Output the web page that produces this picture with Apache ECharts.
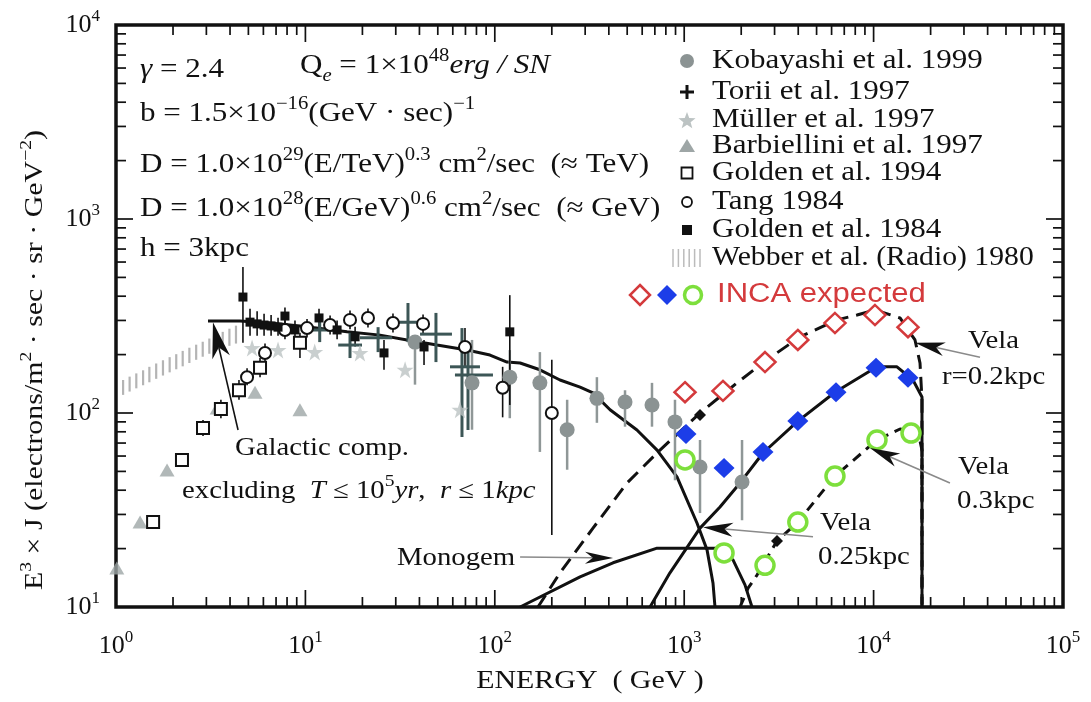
<!DOCTYPE html>
<html>
<head>
<meta charset="utf-8">
<title>Electron spectrum E^3 x J</title>
<script src="https://cdn.jsdelivr.net/npm/echarts@6/dist/echarts.min.js"></script>
<style>
  html, body { margin: 0; padding: 0; background: #fff; }
  #chart { width: 1091px; height: 702px; }
</style>
</head>
<body>
<div id="chart"></div>
<script>
// Energy E in GeV on x, E^3 x J on y (both logarithmic).

// ---- axis ranges and tick labels ----
const X_MIN = 1, X_MAX = 100000, Y_MIN = 10, Y_MAX = 10000;
const xTickExponents = ['0', '1', '2', '3', '4', '5'];
const yTickExponents = ['1', '2', '3', '4'];
const minorSteps = [2, 3, 4, 5, 6, 7, 8, 9];

// ---- measurements ----
// Kobayashi et al. 1999: [E, E3J, lower, upper]
const kobayashi1999 = [
  [37.9, 232, 140, 250], [75.8, 143, 82, 238], [120, 153, 94, 211], [173, 143, 63, 206],
  [241, 82, 51, 117], [346, 119, 89, 153], [487, 114, 85, 131], [676, 110, 85, 143],
  [894, 90, 45, 117], [1212, 52.7, 30.5, 72.6], [2020, 44.1, 28, 72.6]
];
// Torii et al. 1997: [E, E3J, E low, E high, lower, upper]
const torii1997 = [
  [11.9, 268, 9.71, 14.7, 232, 302], [17.2, 224, 14.9, 19.9, 192, 259],
  [24.2, 244, 19.4, 28.7, 206, 277], [34.8, 294, 28.0, 44.4, 232, 369],
  [48.9, 255, 40.3, 59.4, 183, 328], [67.1, 173, 58.0, 83.5, 75.2, 274],
  [72.2, 157, 61.6, 97.8, 81.7, 224]
];
// Muller et al. 1997: [E, E3J]
const muller1997 = [[5.23, 216], [7.17, 211], [11.2, 206], [19.4, 204], [33.6, 167], [65.5, 104]];
// Barbiellini et al. 1997: [E, E3J]
const barbiellini1997 = [[1.01, 15.9], [1.34, 27.4], [1.86, 50.8], [3.42, 106], [5.42, 128], [9.36, 104]];
// Golden et al. 1994: [E, E3J, lower, upper]
const golden1994 = [
  [1.57, 27.4, 27.4, 27.4], [2.23, 57.3, 53, 62], [2.88, 83.7, 76, 92], [3.58, 105, 94, 117],
  [4.46, 131, 117, 148], [5.76, 171, 153, 192], [9.36, 230, 192, 259]
];
// Tang 1984: [E, E3J, lower, upper]
const tang1984 = [
  [4.92, 153, 139, 170], [6.12, 204, 183, 228], [7.80, 268, 240, 300], [10.2, 274, 245, 305],
  [13.5, 284, 254, 318], [17.2, 302, 270, 338], [21.4, 309, 276, 346], [29.0, 291, 260, 326],
  [41.8, 288, 258, 322], [69.6, 219, 173, 274], [110, 135, 95, 173], [200, 100, 23.5, 188]
];
// Golden et al. 1984: [E, E3J, lower, upper]
const golden1984 = [
  [4.68, 396, 230, 566], [5.10, 294, 250, 345], [5.56, 288, 250, 335], [6.05, 284, 250, 325],
  [6.59, 281, 250, 320], [7.17, 277, 250, 310], [7.80, 316, 285, 350], [8.81, 268, 240, 300],
  [11.8, 309, 278, 345], [14.7, 268, 240, 300], [18.3, 247, 220, 278], [26.0, 204, 167, 238],
  [42.3, 219, 177, 238], [120, 262, 110, 405]
];
// Webber et al. (Radio) 1980 band: [E, lower, upper]
const webberRadio1980 = [
  [1.09, 124, 148], [1.18, 129, 154], [1.28, 134, 160], [1.39, 139, 166], [1.50, 144, 173],
  [1.63, 150, 180], [1.77, 156, 187], [1.92, 162, 194], [2.08, 168, 201], [2.25, 174, 209],
  [2.44, 181, 217], [2.65, 188, 225], [2.87, 195, 233], [3.11, 202, 242], [3.37, 209, 251],
  [3.66, 216, 262], [3.97, 222, 272], [4.30, 228, 282]
];

// ---- model curves: [E, E3J] ----
const galacticCurve = [
  [3.06, 298], [4.52, 298], [6.50, 291], [9.36, 281], [16.6, 262], [24.8, 252], [34.4, 238],
  [49.5, 224], [71.3, 211], [94.3, 199], [116, 183], [136, 181], [173, 167], [221, 148],
  [282, 136], [330, 127], [406, 104], [563, 81.7], [719, 64.4], [916, 46.8], [1168, 27.1],
  [1320, 19.7], [1419, 13.3], [1454, 10]
];
const monogemCurve = [
  [136, 10], [282, 14.3], [421, 16.9], [719, 20.1], [1490, 20.1], [1810, 17.5], [2094, 13.0], [2280, 10]
];
const vela020Curve = [
  [169, 10], [221, 15.0], [330, 25.5], [499, 43.6], [745, 64.4], [1212, 100], [1900, 143],
  [2736, 188], [4087, 247], [6410, 302], [8175, 320], [10170, 340], [13790, 309], [16540, 238],
  [17580, 181], [18010, 117], [18010, 10]
];
const vela025Curve = [
  [660, 10], [841, 15.0], [1212, 25.5], [1545, 32.8], [1971, 43.6], [2606, 62.2], [3941, 90],
  [6252, 128], [10420, 173], [13290, 173], [16140, 148], [18010, 121], [18010, 10]
];
const vela030Curve = [
  [1971, 10], [2173, 12.5], [2423, 14.6], [3090, 21.9], [3981, 27.4], [6252, 47.3],
  [10420, 72.6], [13790, 82.7], [17160, 79.8], [18010, 64.4], [18010, 10]
];
const curveMarks = [[1212, 97.7], [3090, 21.9]];

// ---- INCA expected: [E, E3J] ----
const incaRed = [[1010, 128], [1602, 130], [2671, 183], [3981, 238], [6252, 291], [10170, 320], [15190, 277]];
const incaBlue = [[1022, 77.9], [1623, 52], [2606, 62.9], [3981, 91], [6332, 128], [10300, 171], [15190, 152]];
const incaGreen = [[1010, 57.3], [1623, 19.0], [2671, 16.4], [3981, 27.4], [6252, 47.3], [10420, 72.6], [15760, 78.8]];

// ---- annotation pointers: [tail E, tail E3J, tip E, tip E3J] ----
const pointerArrows = [
  [4.41, 81.7, 3.25, 294], [136, 18.1, 421, 17.9], [4786, 23, 1257, 25.8],
  [25300, 43.6, 9570, 66], [36450, 194, 16540, 230]
];

// ---- look ----
const SERIF = '"Liberation Serif", "Times New Roman", serif';
const SANS = '"Liberation Sans", Arial, sans-serif';
const INK = '#111';
const STRETCH = 1.15;
const arrowLook = [
  { len: 36, half: 9, shaft: INK }, { len: 28, half: 6, shaft: '#8a8a8a' },
  { len: 30, half: 7, shaft: '#8a8a8a' }, { len: 30, half: 7, shaft: '#8a8a8a' },
  { len: 30, half: 7, shaft: '#8a8a8a' }
];
const STAR = 'path://M50 0 L61.8 35.1 L98.9 35.1 L68.9 56.8 L80.3 91.9 L50 70.2 L19.7 91.9 L31.1 56.8 L1.1 35.1 L38.2 35.1 Z';

// decade and in-between tick values of a log axis
function decadeValues(exps) { return exps.map(e => Math.pow(10, +e)); }
function minorValues(exps) {
  const out = [];
  exps.slice(0, -1).forEach(e => minorSteps.forEach(m => out.push(Math.pow(10, +e) * m)));
  return out;
}

// frame ticks drawn as thin bar symbols pinned to the frame edges
function tickSeries(points, size, offset) {
  return {
    type: 'scatter', data: points, symbol: 'rect', symbolSize: size, symbolOffset: offset,
    clip: false, silent: true, z: 6, itemStyle: { color: INK, opacity: 1 }
  };
}
function frameTicks() {
  const out = [];
  [[decadeValues(xTickExponents), 17], [minorValues(xTickExponents), 10]].forEach(([vals, len]) => {
    out.push(tickSeries(vals.map(v => [v, Y_MIN]), [1.7, len], [0, -len / 2]));
    out.push(tickSeries(vals.map(v => [v, Y_MAX]), [1.7, len], [0, len / 2]));
  });
  [[decadeValues(yTickExponents), 17], [minorValues(yTickExponents), 10]].forEach(([vals, len]) => {
    out.push(tickSeries(vals.map(v => [X_MIN, v]), [len, 1.7], [len / 2, 0]));
    out.push(tickSeries(vals.map(v => [X_MAX, v]), [len, 1.7], [-len / 2, 0]));
  });
  return out;
}

function verticalBars(color, width) {
  return function (params, api) {
    const x = api.coord([api.value(0), api.value(1)])[0];
    const lo = api.coord([api.value(0), api.value(2)])[1];
    const hi = api.coord([api.value(0), api.value(3)])[1];
    return { type: 'line', shape: { x1: x, y1: lo, x2: x, y2: hi }, style: { stroke: color, lineWidth: width } };
  };
}
function renderHatch(params, api) {
  const lo = api.coord([api.value(0), api.value(1)]);
  const hi = api.coord([api.value(0), api.value(2)]);
  return { type: 'line', shape: { x1: lo[0], y1: lo[1], x2: hi[0], y2: hi[1] }, style: { stroke: '#b4b4b4', lineWidth: 2.2 } };
}
function renderCrosses(params, api) {
  const c = api.coord([api.value(0), api.value(1)]);
  const xl = api.coord([api.value(2), api.value(1)])[0];
  const xr = api.coord([api.value(3), api.value(1)])[0];
  const yl = api.coord([api.value(0), api.value(4)])[1];
  const yh = api.coord([api.value(0), api.value(5)])[1];
  const st = { stroke: '#3c5656', lineWidth: 3 };
  return { type: 'group', children: [
    { type: 'line', shape: { x1: xl, y1: c[1], x2: xr, y2: c[1] }, style: st },
    { type: 'line', shape: { x1: c[0], y1: yl, x2: c[0], y2: yh }, style: st }
  ] };
}
function renderArrow(params, api) {
  const look = arrowLook[params.dataIndex];
  const a = api.coord([api.value(0), api.value(1)]);
  const b = api.coord([api.value(2), api.value(3)]);
  const dx = b[0] - a[0], dy = b[1] - a[1], d = Math.hypot(dx, dy);
  const ux = dx / d, uy = dy / d, px = -uy, py = ux;
  const bx = b[0] - ux * look.len, by = b[1] - uy * look.len;
  const nx = b[0] - ux * look.len * 0.72, ny = b[1] - uy * look.len * 0.72;
  return { type: 'group', children: [
    { type: 'line', shape: { x1: a[0], y1: a[1], x2: nx, y2: ny }, style: { stroke: look.shaft, lineWidth: 1.6 } },
    { type: 'polygon', shape: { points: [[b[0], b[1]], [bx + px * look.half, by + py * look.half], [nx, ny], [bx - px * look.half, by - py * look.half]] },
      style: { fill: INK } }
  ] };
}

// rich text sets: bottom-aligned tokens, superscripts lifted by padding
function richSet(fs, lowerBase) {
  const sfs = Math.round(fs * 0.66);
  const lift = Math.round(fs * 0.5);
  const pb = lowerBase || 0;
  return {
    n: { fontFamily: SERIF, fontSize: fs, lineHeight: fs, verticalAlign: 'bottom', fill: INK, padding: [0, 0, pb, 0] },
    i: { fontFamily: SERIF, fontSize: fs, lineHeight: fs, verticalAlign: 'bottom', fill: INK, fontStyle: 'italic', padding: [0, 0, pb, 0] },
    sup: { fontFamily: SERIF, fontSize: sfs, lineHeight: sfs, verticalAlign: 'bottom', fill: INK, padding: [0, 0, lift + pb, 0] },
    sub: { fontFamily: SERIF, fontSize: sfs, lineHeight: sfs, verticalAlign: 'bottom', fill: INK, fontStyle: 'italic' },
    sans: { fontFamily: SANS, fontSize: fs, lineHeight: fs, verticalAlign: 'bottom', fill: '#d43a3c' }
  };
}
function text(x, y, str, fs, extra) {
  return Object.assign({
    type: 'text', x: x, y: y, scaleX: STRETCH, silent: true, z: 100,
    style: { text: str, rich: richSet(fs), align: 'left', verticalAlign: 'middle' }
  }, extra || {});
}

const chart = echarts.init(document.getElementById('chart'));

const axisRich = {
  b: { fontFamily: SERIF, fontSize: 26, lineHeight: 26, color: INK, verticalAlign: 'bottom' },
  s: { fontFamily: SERIF, fontSize: 17, lineHeight: 17, color: INK, verticalAlign: 'bottom', padding: [0, 0, 13, 0] }
};
function expLabel(v, list) {
  const e = String(Math.round(Math.log10(v)));
  return list.indexOf(e) >= 0 ? '{b|10}{s|' + e + '}' : '';
}
function lineSeries(data, dash) {
  return { type: 'line', data: data, symbol: 'none', silent: true, z: 2, smooth: false,
    lineStyle: { color: INK, width: 3, type: dash || 'solid' } };
}

// legend glyphs
function starPoints(cx, cy, R, r) {
  const pts = [];
  for (let k = 0; k < 10; k++) {
    const a = -Math.PI / 2 + k * Math.PI / 5, rad = k % 2 ? r : R;
    pts.push([cx + rad * Math.cos(a), cy + rad * Math.sin(a)]);
  }
  return pts;
}
const legendNames = ['Kobayashi et al. 1999', 'Torii et al. 1997', 'Müller et al. 1997', 'Barbiellini et al. 1997',
  'Golden et al. 1994', 'Tang 1984', 'Golden et al. 1984', 'Webber et al. (Radio) 1980'];
const legendRows = [61, 92, 120, 146, 173, 202, 230, 258];
const LX = 687, TX = 712;
const graphics = [];
legendNames.forEach((n, k) => graphics.push(text(TX, legendRows[k], '{n|' + n + '}', 27, k === 7 ? { scaleX: 1.1 } : null)));
graphics.push(
  { type: 'circle', shape: { cx: LX, cy: legendRows[0], r: 7 }, style: { fill: '#8b9393' }, silent: true },
  { type: 'line', shape: { x1: LX - 7, y1: legendRows[1], x2: LX + 7, y2: legendRows[1] }, style: { stroke: INK, lineWidth: 3 }, silent: true },
  { type: 'line', shape: { x1: LX, y1: legendRows[1] - 7, x2: LX, y2: legendRows[1] + 7 }, style: { stroke: INK, lineWidth: 3 }, silent: true },
  { type: 'polygon', shape: { points: starPoints(LX, legendRows[2] + 1, 9, 3.8) }, style: { fill: '#bcc3c3' }, silent: true },
  { type: 'polygon', shape: { points: [[LX, legendRows[3] - 7], [LX + 8, legendRows[3] + 6], [LX - 8, legendRows[3] + 6]] }, style: { fill: '#9ea6a6' }, silent: true },
  { type: 'rect', shape: { x: LX - 5.5, y: legendRows[4] - 5.5, width: 11, height: 11 }, style: { fill: '#fff', stroke: INK, lineWidth: 1.8 }, silent: true },
  { type: 'circle', shape: { cx: LX, cy: legendRows[5], r: 5 }, style: { fill: '#fff', stroke: INK, lineWidth: 1.8 }, silent: true },
  { type: 'rect', shape: { x: LX - 5, y: legendRows[6] - 5, width: 10, height: 10 }, style: { fill: INK }, silent: true }
);
for (let k = 0; k < 6; k++) {
  const hx = 673 + k * 5.4;
  graphics.push({ type: 'line', shape: { x1: hx, y1: legendRows[7] - 9, x2: hx, y2: legendRows[7] + 9 }, style: { stroke: '#bbbbbb', lineWidth: 1.5 }, silent: true });
}
// INCA row
graphics.push(
  { type: 'polygon', shape: { points: [[640, 285], [650, 295], [640, 305], [630, 295]] }, style: { fill: '#fff', stroke: '#d43a3c', lineWidth: 2.5 }, silent: true },
  { type: 'polygon', shape: { points: [[667, 285], [677, 295], [667, 305], [657, 295]] }, style: { fill: '#1c3de8' }, silent: true },
  { type: 'circle', shape: { cx: 693, cy: 295, r: 8.5 }, style: { fill: '#fff', stroke: '#7ddf3c', lineWidth: 3.5 }, silent: true },
  text(717, 295, '{sans|INCA expected}', 27)
);
// model parameters
const qLine = text(300, 72, '{n|Q}{sub|e}{n| = 1×10}{sup|48}{i|erg / SN}', 27);
qLine.style.rich = richSet(27, 6); // subscript sits below the lifted line
graphics.push(
  text(140, 70, '{i|γ}{n| = 2.4}', 27),
  qLine,
  text(140, 114, '{n|b = 1.5×10}{sup|−16}{n|(GeV · sec)}{sup|−1}', 27),
  text(140, 165, '{n|D = 1.0×10}{sup|29}{n|(E/TeV)}{sup|0.3}{n| cm}{sup|2}{n|/sec  (≈ TeV)}', 27),
  text(140, 209, '{n|D = 1.0×10}{sup|28}{n|(E/GeV)}{sup|0.6}{n| cm}{sup|2}{n|/sec  (≈ GeV)}', 27),
  text(140, 249, '{n|h = 3kpc}', 27)
);
// curve annotations
graphics.push(
  text(235, 448, '{n|Galactic comp.}', 25),
  text(182, 491, '{n|excluding  }{i|T}{n| ≤ 10}{sup|5}{i|yr}{n|,  }{i|r}{n| ≤ 1}{i|kpc}', 25),
  text(397, 558, '{n|Monogem}', 25),
  text(820, 523, '{n|Vela}', 25),
  text(818, 557, '{n|0.25kpc}', 25),
  text(958, 467, '{n|Vela}', 25),
  text(957, 501, '{n|0.3kpc}', 25),
  text(968, 341, '{n|Vela}', 25),
  text(942, 377, '{n|r=0.2kpc}', 25)
);
// axis titles
const xTitle = text(590, 681, '{n|ENERGY  ( GeV )}', 26);
const yTitle = text(35, 360, '{n|E}{sup|3}{n| × J (electrons/m}{sup|2}{n| · sec · sr · GeV}{sup|−2}{n|)}', 26, { rotation: Math.PI / 2 });
xTitle.style.align = 'center';
yTitle.style.align = 'center';
graphics.push(xTitle, yTitle);

chart.setOption({
  animation: false,
  backgroundColor: '#fff',
  grid: { left: 116, right: 28, top: 25, bottom: 95, show: true, borderColor: INK, borderWidth: 3.5, backgroundColor: 'transparent' },
  xAxis: {
    type: 'log', logBase: 10, min: X_MIN, max: X_MAX, splitNumber: 5,
    axisLine: { show: false }, axisTick: { show: false }, splitLine: { show: false },
    axisLabel: { margin: 26, formatter: v => expLabel(v, xTickExponents), rich: axisRich, showMinLabel: true, showMaxLabel: true }
  },
  yAxis: {
    type: 'log', logBase: 10, min: Y_MIN, max: Y_MAX, splitNumber: 3,
    axisLine: { show: false }, axisTick: { show: false }, splitLine: { show: false },
    axisLabel: { margin: 16, formatter: v => expLabel(v, yTickExponents), rich: axisRich, showMinLabel: true, showMaxLabel: true }
  },
  graphic: graphics,
  series: [
    { type: 'custom', data: webberRadio1980, encode: { x: 0, y: 1 }, z: 1, silent: true, renderItem: renderHatch },
    lineSeries(galacticCurve),
    lineSeries(monogemCurve),
    lineSeries(vela020Curve, [14, 8]),
    lineSeries(vela025Curve),
    lineSeries(vela030Curve, [10, 7]),
    { type: 'custom', data: kobayashi1999, encode: { x: 0, y: 1 }, z: 3, silent: true, renderItem: verticalBars('#8f9797', 2.5) },
    { type: 'custom', data: tang1984, encode: { x: 0, y: 1 }, z: 3, silent: true, renderItem: verticalBars(INK, 1.6) },
    { type: 'custom', data: golden1994, encode: { x: 0, y: 1 }, z: 3, silent: true, renderItem: verticalBars(INK, 1.6) },
    { type: 'custom', data: golden1984, encode: { x: 0, y: 1 }, z: 3, silent: true, renderItem: verticalBars(INK, 1.6) },
    { type: 'custom', data: torii1997, encode: { x: 0, y: 1 }, z: 3, silent: true, renderItem: renderCrosses },
    { type: 'scatter', data: barbiellini1997, symbol: 'triangle', symbolSize: [15, 13], z: 4, silent: true, itemStyle: { color: '#9ea6a6' } },
    { type: 'scatter', data: muller1997, symbol: STAR, symbolSize: 17, z: 4, silent: true, itemStyle: { color: '#bcc3c3' } },
    { type: 'scatter', data: kobayashi1999, symbol: 'circle', symbolSize: 15, z: 4, silent: true, itemStyle: { color: '#8b9393', opacity: 1 } },
    { type: 'scatter', data: golden1994, symbol: 'rect', symbolSize: 12, z: 4, silent: true, itemStyle: { color: '#fff', borderColor: INK, borderWidth: 2, opacity: 1 } },
    { type: 'scatter', data: tang1984, symbol: 'circle', symbolSize: 12, z: 4, silent: true, itemStyle: { color: '#fff', borderColor: INK, borderWidth: 2, opacity: 1 } },
    { type: 'scatter', data: golden1984, symbol: 'rect', symbolSize: 9, z: 4, silent: true, itemStyle: { color: INK, opacity: 1 } },
    { type: 'scatter', data: curveMarks, symbol: 'diamond', symbolSize: 12, z: 5, silent: true, itemStyle: { color: INK, opacity: 1 } },
    { type: 'scatter', data: incaRed, symbol: 'diamond', symbolSize: [21, 20], z: 6, silent: true, itemStyle: { color: '#fff', borderColor: '#d43a3c', borderWidth: 2.5, opacity: 1 } },
    { type: 'scatter', data: incaBlue, symbol: 'diamond', symbolSize: [21, 20], z: 6, silent: true, itemStyle: { color: '#1c3de8', opacity: 1 } },
    { type: 'scatter', data: incaGreen, symbol: 'circle', symbolSize: 18, z: 6, silent: true, itemStyle: { color: '#fff', borderColor: '#7ddf3c', borderWidth: 3.5, opacity: 1 } },
    { type: 'custom', data: pointerArrows, encode: { x: 0, y: 1 }, z: 7, silent: true, renderItem: renderArrow }
  ].concat(frameTicks())
});
</script>
</body>
</html>
